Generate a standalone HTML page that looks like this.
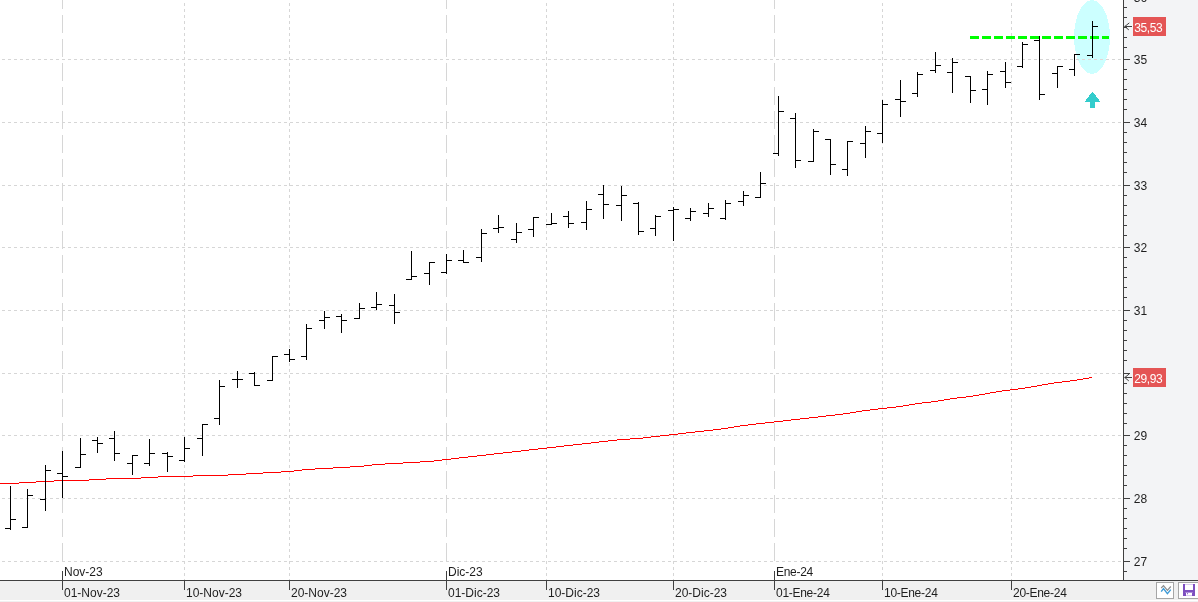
<!DOCTYPE html>
<html lang="es"><head><meta charset="utf-8"><title>Chart</title>
<style>
html,body{margin:0;padding:0;background:#fff;}
body{width:1198px;height:602px;position:relative;overflow:hidden;font-family:"Liberation Sans",sans-serif;}
.t{position:absolute;font-size:12px;line-height:14px;height:14px;color:#1e1e1e;white-space:nowrap;}
.w{color:#fff;letter-spacing:-0.4px;}
.e{letter-spacing:-0.28px;}
</style></head><body>
<svg width="1198" height="602" viewBox="0 0 1198 602" shape-rendering="crispEdges" style="position:absolute;left:0;top:0">
<rect x="0" y="0" width="1198" height="602" fill="#ffffff"/>
<rect x="1124" y="0" width="74" height="580" fill="#f3f4f6"/>
<rect x="0" y="581" width="1198" height="21" fill="#f0f0f0"/>
<rect x="0" y="600" width="1198" height="1" fill="#ffffff"/>
<line x1="2" x2="1123" y1="59.5" y2="59.5" stroke="#d6d6d6" stroke-width="1" stroke-dasharray="3 3"/>
<line x1="2" x2="1123" y1="122.5" y2="122.5" stroke="#d6d6d6" stroke-width="1" stroke-dasharray="3 3"/>
<line x1="2" x2="1123" y1="185.5" y2="185.5" stroke="#d6d6d6" stroke-width="1" stroke-dasharray="3 3"/>
<line x1="2" x2="1123" y1="247.5" y2="247.5" stroke="#d6d6d6" stroke-width="1" stroke-dasharray="3 3"/>
<line x1="2" x2="1123" y1="310.5" y2="310.5" stroke="#d6d6d6" stroke-width="1" stroke-dasharray="3 3"/>
<line x1="2" x2="1123" y1="373.5" y2="373.5" stroke="#d6d6d6" stroke-width="1" stroke-dasharray="3 3"/>
<line x1="2" x2="1123" y1="435.5" y2="435.5" stroke="#d6d6d6" stroke-width="1" stroke-dasharray="3 3"/>
<line x1="2" x2="1123" y1="498.5" y2="498.5" stroke="#d6d6d6" stroke-width="1" stroke-dasharray="3 3"/>
<line x1="2" x2="1123" y1="561.5" y2="561.5" stroke="#d6d6d6" stroke-width="1" stroke-dasharray="3 3"/>
<line x1="184.5" x2="184.5" y1="3" y2="580" stroke="#d6d6d6" stroke-width="1" stroke-dasharray="3 3"/>
<line x1="289.5" x2="289.5" y1="3" y2="580" stroke="#d6d6d6" stroke-width="1" stroke-dasharray="3 3"/>
<line x1="546.5" x2="546.5" y1="3" y2="580" stroke="#d6d6d6" stroke-width="1" stroke-dasharray="3 3"/>
<line x1="673.5" x2="673.5" y1="3" y2="580" stroke="#d6d6d6" stroke-width="1" stroke-dasharray="3 3"/>
<line x1="882.5" x2="882.5" y1="3" y2="580" stroke="#d6d6d6" stroke-width="1" stroke-dasharray="3 3"/>
<line x1="1011.5" x2="1011.5" y1="3" y2="580" stroke="#d6d6d6" stroke-width="1" stroke-dasharray="3 3"/>
<line x1="62.5" x2="62.5" y1="-9" y2="561" stroke="#d6d6d6" stroke-width="1" stroke-dasharray="18 6"/>
<line x1="446.5" x2="446.5" y1="-9" y2="561" stroke="#d6d6d6" stroke-width="1" stroke-dasharray="18 6"/>
<line x1="774.5" x2="774.5" y1="-9" y2="561" stroke="#d6d6d6" stroke-width="1" stroke-dasharray="18 6"/>
<defs><clipPath id="ec"><ellipse cx="1092" cy="37" rx="17.9" ry="37"/></clipPath></defs>
<ellipse cx="1092" cy="37" rx="17.9" ry="37" fill="#ccffff"/>
<line x1="2" x2="1123" y1="59.5" y2="59.5" stroke="#e5d6d6" stroke-width="1" stroke-dasharray="3 3" clip-path="url(#ec)"/>
<polyline points="0,484.0 10.5,483.5 27.5,482.5 45.5,481.5 62.5,480.5 80.5,480.5 97.5,479.5 114.5,478.5 132.5,478.5 149.5,477.5 167.5,476.5 184.5,476.5 202.5,475.5 219.5,475.5 237.5,474.5 254.5,473.5 272.5,472.5 289.5,471.5 306.5,469.5 324.5,468.5 341.5,467.5 359.5,466.5 376.5,464.5 394.5,463.5 411.5,462.5 429.5,461.5 446.5,459.5 463.5,457.5 481.5,455.5 498.5,453.5 516.5,451.5 533.5,449.5 551.5,447.5 568.5,445.5 586.5,443.5 603.5,441.5 621.5,439.5 638.5,438.5 655.5,436.5 673.5,434.5 690.5,432.5 708.5,430.5 725.5,428.5 743.5,425.5 760.5,423.5 778.5,421.5 795.5,419.5 813.5,417.5 830.5,415.5 847.5,413.5 865.5,410.5 882.5,408.5 900.5,406.5 917.5,403.5 935.5,401.5 952.5,398.5 970.5,396.5 987.5,393.5 1005.5,390.5 1022.5,388.5 1039.5,385.5 1057.5,382.5 1074.5,380.5 1092.5,377.5" fill="none" stroke="#ff0000" stroke-width="1"/>
<line x1="970" x2="1109" y1="37.5" y2="37.5" stroke="#00ff00" stroke-width="3" stroke-dasharray="9 3"/>
<path d="M10 486h1v44h-1zM5 528h5v1h-5zM11 519h5v1h-5zM27 489h1v39h-1zM22 527h5v1h-5zM28 495h5v1h-5zM45 465h1v46h-1zM40 499h5v1h-5zM46 470h5v1h-5zM62 451h1v47h-1zM57 473h5v1h-5zM63 476h5v1h-5zM80 438h1v30h-1zM75 467h5v1h-5zM81 454h5v1h-5zM97 437h1v16h-1zM92 440h5v1h-5zM98 443h5v1h-5zM114 431h1v30h-1zM109 438h5v1h-5zM115 453h5v1h-5zM132 455h1v20h-1zM127 463h5v1h-5zM133 455h5v1h-5zM149 439h1v27h-1zM144 463h5v1h-5zM150 453h5v1h-5zM167 452h1v20h-1zM162 453h5v1h-5zM168 456h5v1h-5zM184 437h1v25h-1zM179 460h5v1h-5zM185 448h5v1h-5zM202 424h1v32h-1zM197 438h5v1h-5zM203 424h5v1h-5zM219 380h1v45h-1zM214 418h5v1h-5zM220 386h5v1h-5zM237 371h1v17h-1zM232 379h5v1h-5zM238 379h5v1h-5zM254 372h1v14h-1zM249 373h5v1h-5zM255 385h5v1h-5zM272 356h1v25h-1zM267 380h5v1h-5zM273 356h5v1h-5zM289 349h1v13h-1zM284 354h5v1h-5zM290 359h5v1h-5zM306 324h1v36h-1zM301 356h5v1h-5zM307 328h5v1h-5zM324 311h1v18h-1zM319 320h5v1h-5zM325 317h5v1h-5zM341 314h1v19h-1zM336 316h5v1h-5zM342 320h5v1h-5zM359 303h1v16h-1zM354 318h5v1h-5zM360 308h5v1h-5zM376 292h1v18h-1zM371 307h5v1h-5zM377 304h5v1h-5zM394 294h1v30h-1zM389 305h5v1h-5zM395 312h5v1h-5zM411 251h1v29h-1zM406 279h5v1h-5zM412 276h5v1h-5zM429 262h1v23h-1zM424 273h5v1h-5zM430 262h5v1h-5zM446 254h1v20h-1zM441 272h5v1h-5zM447 260h5v1h-5zM463 250h1v13h-1zM458 260h5v1h-5zM464 262h5v1h-5zM481 229h1v33h-1zM476 257h5v1h-5zM482 233h5v1h-5zM498 215h1v18h-1zM493 228h5v1h-5zM499 227h5v1h-5zM516 223h1v20h-1zM511 239h5v1h-5zM517 232h5v1h-5zM533 217h1v20h-1zM528 229h5v1h-5zM534 217h5v1h-5zM551 213h1v12h-1zM546 224h5v1h-5zM552 223h5v1h-5zM568 211h1v17h-1zM563 216h5v1h-5zM569 223h5v1h-5zM586 201h1v29h-1zM581 222h5v1h-5zM587 209h5v1h-5zM603 185h1v34h-1zM598 194h5v1h-5zM604 204h5v1h-5zM621 186h1v35h-1zM616 205h5v1h-5zM622 195h5v1h-5zM638 202h1v33h-1zM633 203h5v1h-5zM639 231h5v1h-5zM655 215h1v21h-1zM650 228h5v1h-5zM656 216h5v1h-5zM673 207h1v34h-1zM668 210h5v1h-5zM674 209h5v1h-5zM690 208h1v13h-1zM685 218h5v1h-5zM691 211h5v1h-5zM708 203h1v14h-1zM703 213h5v1h-5zM709 208h5v1h-5zM725 200h1v20h-1zM720 218h5v1h-5zM726 203h5v1h-5zM743 191h1v15h-1zM738 201h5v1h-5zM744 195h5v1h-5zM760 172h1v26h-1zM755 197h5v1h-5zM761 183h5v1h-5zM778 96h1v60h-1zM773 153h5v1h-5zM779 111h5v1h-5zM795 113h1v55h-1zM790 118h5v1h-5zM796 160h5v1h-5zM813 129h1v33h-1zM808 161h5v1h-5zM814 131h5v1h-5zM830 139h1v36h-1zM825 139h5v1h-5zM831 164h5v1h-5zM847 141h1v35h-1zM842 169h5v1h-5zM848 141h5v1h-5zM865 126h1v32h-1zM860 143h5v1h-5zM866 131h5v1h-5zM882 100h1v43h-1zM877 133h5v1h-5zM883 104h5v1h-5zM900 80h1v37h-1zM895 99h5v1h-5zM901 101h5v1h-5zM917 72h1v25h-1zM912 93h5v1h-5zM918 74h5v1h-5zM935 52h1v21h-1zM930 70h5v1h-5zM936 65h5v1h-5zM952 58h1v35h-1zM947 72h5v1h-5zM953 62h5v1h-5zM970 76h1v27h-1zM965 76h5v1h-5zM971 90h5v1h-5zM987 71h1v34h-1zM982 89h5v1h-5zM988 74h5v1h-5zM1005 62h1v26h-1zM1000 71h5v1h-5zM1006 82h5v1h-5zM1022 42h1v26h-1zM1017 66h5v1h-5zM1023 44h5v1h-5zM1039 36h1v64h-1zM1034 40h5v1h-5zM1040 94h5v1h-5zM1057 66h1v22h-1zM1052 73h5v1h-5zM1058 66h5v1h-5zM1074 54h1v22h-1zM1069 69h5v1h-5zM1075 54h5v1h-5zM1092 21h1v37h-1zM1087 55h5v1h-5zM1093 26h5v1h-5z" fill="#000000"/>
<polygon points="1092.5,91.5 1100.5,102 1095,102 1095,108 1090,108 1090,102 1084.5,102" fill="#33cccc"/>
<rect x="1123" y="0" width="1" height="581" fill="#404040"/>
<rect x="0" y="580" width="1198" height="1" fill="#404040"/>
<path d="M1124 7h3v1h-3zM1124 17h3v1h-3zM1124 27h3v1h-3zM1124 37h3v1h-3zM1124 47h3v1h-3zM1124 59h6v1h-6zM1124 69h3v1h-3zM1124 79h3v1h-3zM1124 89h3v1h-3zM1124 99h3v1h-3zM1124 109h3v1h-3zM1124 122h6v1h-6zM1124 132h3v1h-3zM1124 142h3v1h-3zM1124 152h3v1h-3zM1124 162h3v1h-3zM1124 172h3v1h-3zM1124 185h6v1h-6zM1124 195h3v1h-3zM1124 205h3v1h-3zM1124 215h3v1h-3zM1124 225h3v1h-3zM1124 235h3v1h-3zM1124 247h6v1h-6zM1124 257h3v1h-3zM1124 267h3v1h-3zM1124 277h3v1h-3zM1124 287h3v1h-3zM1124 297h3v1h-3zM1124 310h6v1h-6zM1124 320h3v1h-3zM1124 330h3v1h-3zM1124 340h3v1h-3zM1124 350h3v1h-3zM1124 360h3v1h-3zM1124 373h6v1h-6zM1124 383h3v1h-3zM1124 393h3v1h-3zM1124 403h3v1h-3zM1124 413h3v1h-3zM1124 423h3v1h-3zM1124 435h6v1h-6zM1124 445h3v1h-3zM1124 455h3v1h-3zM1124 465h3v1h-3zM1124 475h3v1h-3zM1124 485h3v1h-3zM1124 498h6v1h-6zM1124 508h3v1h-3zM1124 518h3v1h-3zM1124 528h3v1h-3zM1124 538h3v1h-3zM1124 548h3v1h-3zM1124 561h6v1h-6zM1124 571h3v1h-3z" fill="#404040"/>
<path d="M184 580h1v10h-1zM289 580h1v10h-1zM546 580h1v10h-1zM673 580h1v10h-1zM882 580h1v10h-1zM1011 580h1v10h-1zM62 571h1v19h-1zM446 571h1v19h-1zM774 571h1v19h-1z" fill="#404040"/>
<rect x="1133" y="17" width="33" height="19" fill="#e45555"/>
<rect x="1133" y="368" width="33" height="19" fill="#e45555"/>
</svg>
<svg width="1198" height="602" viewBox="0 0 1198 602" style="position:absolute;left:0;top:0">
<path d="M1124.5 26.5H1132M1129.3 22.9L1124.8 26.5L1128.8 29.9" fill="none" stroke="#404040" stroke-width="1"/>
<path d="M1124.5 377.5H1132M1129.3 373.9L1124.8 377.5L1128.8 380.9" fill="none" stroke="#404040" stroke-width="1"/>
<rect x="1156.5" y="582.5" width="17" height="16" fill="#ffffff" stroke="#a6a6a6"/>
<rect x="1178.5" y="582.5" width="24" height="16" fill="#ffffff" stroke="#a6a6a6"/>
<path d="M1161.2 588L1163.5 585.7L1167.4 590.3L1170.8 586.5" fill="none" stroke="#8c8c8c" stroke-width="1.2"/>
<path d="M1161.2 591.6L1163.5 588.6L1167.4 593.6L1170.8 589.6" fill="none" stroke="#3d9ad6" stroke-width="1.4"/>
<rect x="1183" y="584" width="12" height="12" fill="#ffffff"/>
<rect x="1185" y="584" width="8" height="1" fill="#dccbf2"/>
<rect x="1185" y="595" width="8" height="1" fill="#dccbf2"/>
<rect x="1183" y="584" width="2" height="12" fill="#7e4fc0"/>
<rect x="1193" y="584" width="2" height="12" fill="#7e4fc0"/>
<rect x="1183" y="590" width="12" height="2.6" fill="#7e4fc0"/>
<rect x="1185" y="592.6" width="1" height="3.4" fill="#7e4fc0"/>
<rect x="1192" y="592.6" width="1" height="3.4" fill="#7e4fc0"/>
<rect x="1187" y="593.2" width="1" height="1" fill="#7e4fc0"/>
</svg>
<div class="t " style="left:1133.8px;top:52.5px">35</div><div class="t " style="left:1133.8px;top:115.5px">34</div><div class="t " style="left:1133.8px;top:178.5px">33</div><div class="t " style="left:1133.8px;top:240.5px">32</div><div class="t " style="left:1133.8px;top:303.5px">31</div><div class="t " style="left:1133.8px;top:428.5px">29</div><div class="t " style="left:1133.8px;top:491.5px">28</div><div class="t " style="left:1133.8px;top:554.5px">27</div><div class="t " style="left:1133.8px;top:-9.5px">36</div><div class="t w" style="left:1134.3px;top:21.3px">35,53</div><div class="t w" style="left:1134.3px;top:372.3px">29,93</div><div class="t " style="left:64px;top:565px">Nov-23</div><div class="t " style="left:448px;top:565px">Dic-23</div><div class="t e" style="left:776px;top:565px">Ene-24</div><div class="t " style="left:64px;top:586px">01-Nov-23</div><div class="t " style="left:186px;top:586px">10-Nov-23</div><div class="t " style="left:291px;top:586px">20-Nov-23</div><div class="t " style="left:448px;top:586px">01-Dic-23</div><div class="t " style="left:548px;top:586px">10-Dic-23</div><div class="t " style="left:675px;top:586px">20-Dic-23</div><div class="t e" style="left:776px;top:586px">01-Ene-24</div><div class="t e" style="left:884px;top:586px">10-Ene-24</div><div class="t e" style="left:1013px;top:586px">20-Ene-24</div>
</body></html>
